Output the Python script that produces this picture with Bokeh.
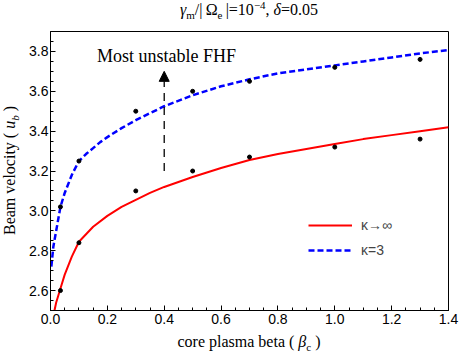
import numpy as np
from bokeh.plotting import figure
from bokeh.layouts import column, row
from bokeh.models import (Range1d, FixedTicker, PrintfTickFormatter, Label, Div,
                          Legend, LegendItem, Arrow, NormalHead)
from bokeh.embed import file_html
from bokeh.resources import INLINE

# ---------------- data ----------------
beta_maxw = [0.014, 0.02, 0.035, 0.05, 0.075, 0.1, 0.15, 0.2, 0.25, 0.3, 0.35, 0.4, 0.45,
             0.5, 0.6, 0.7, 0.8, 0.9, 1.0, 1.1, 1.2, 1.3, 1.4]
ub_maxw = [2.50, 2.54, 2.61, 2.68, 2.77, 2.845, 2.92, 2.975, 3.02, 3.055, 3.09, 3.12, 3.145,
           3.17, 3.215, 3.255, 3.285, 3.31, 3.335, 3.36, 3.38, 3.40, 3.42]

beta_k3 = [0.003, 0.01, 0.02, 0.035, 0.05, 0.075, 0.1, 0.125, 0.15, 0.175, 0.2, 0.25, 0.3,
           0.35, 0.4, 0.5, 0.6, 0.7, 0.8, 0.9, 1.0, 1.1, 1.2, 1.3, 1.4]
ub_k3 = [2.72, 2.82, 2.90, 3.02, 3.09, 3.18, 3.25, 3.285, 3.315, 3.345, 3.37, 3.415, 3.455,
         3.49, 3.525, 3.58, 3.625, 3.66, 3.69, 3.71, 3.73, 3.75, 3.77, 3.79, 3.807]

pts_beta = [0.035, 0.1, 0.3, 0.5, 0.7, 1.0, 1.3]
pts_ub_k3 = [3.02, 3.25, 3.50, 3.60, 3.65, 3.72, 3.76]
pts_ub_maxw = [2.60, 2.84, 3.10, 3.20, 3.27, 3.32, 3.36]

arrow_x = 0.4
arrow_y_start = 3.2
arrow_y_end = 3.70
annot_x = 0.408
annot_y = 3.775
annot_text = "Most unstable FHF"

x_ticks = [0.0, 0.2, 0.4, 0.6, 0.8, 1.0, 1.2, 1.4]
y_ticks = [2.6, 2.8, 3.0, 3.2, 3.4, 3.6, 3.8]
legend_labels = ["κ→∞", "κ=3"]

title_html = "<i>γ</i><sub>m</sub>/|&thinsp;Ω<sub>e</sub>&thinsp;|=10<sup>−4</sup>, <i>δ</i>=0.05"
xlabel_html = "core plasma beta ( <i>β</i><sub>c</sub> )"
ylabel_html = "Beam velocity ( <i>u</i><sub><i>b</i></sub> )"

SERIF = "Liberation Serif"
SANS = "Liberation Sans"

# layout geometry (pixels)
W, H = 460, 359
TITLE_H = 22
YLAB_W = 22
FIG_H = 312
XLAB_H = H - TITLE_H - FIG_H
FRAME_L, FRAME_R = 50, 448
FRAME_T, FRAME_B = 31, 310

p = figure(width=W - YLAB_W, height=FIG_H, output_backend="svg", toolbar_location=None,
           title=None, x_range=Range1d(0, 1.4), y_range=Range1d(2.5, 3.9),
           min_border_left=FRAME_L - YLAB_W, min_border_right=W - FRAME_R,
           min_border_top=FRAME_T - TITLE_H,
           min_border_bottom=FIG_H - (FRAME_B - TITLE_H))
p.grid.visible = False
p.outline_line_color = "black"
p.outline_line_width = 1
p.background_fill_color = "white"
p.border_fill_color = "white"

x_minor = list(np.round(np.arange(0.0, 1.4001, 0.05), 3))
y_minor = list(np.round(np.arange(2.5, 3.9001, 0.05), 3))
p.xaxis.ticker = FixedTicker(ticks=x_ticks, minor_ticks=x_minor)
p.yaxis.ticker = FixedTicker(ticks=y_ticks, minor_ticks=y_minor)
for ax in (p.xaxis[0], p.yaxis[0]):
    ax.formatter = PrintfTickFormatter(format="%.1f")
    ax.major_tick_in = 5
    ax.major_tick_out = 0
    ax.minor_tick_in = 3
    ax.minor_tick_out = 0
    ax.axis_line_color = "black"
    ax.major_tick_line_color = "black"
    ax.minor_tick_line_color = "black"
    ax.major_label_text_font = SANS
    ax.major_label_text_font_size = "14px"
    ax.major_label_text_color = "black"
p.xaxis.major_label_standoff = 3
p.yaxis.major_label_standoff = 2

r_max = p.line(beta_maxw, ub_maxw, line_color="#ff0000", line_width=2)
r_k3 = p.line(beta_k3, ub_k3, line_color="#0000ff", line_width=2.5, line_dash="6 3")
p.scatter(pts_beta, pts_ub_k3, size=4, color="black")
p.scatter(pts_beta, pts_ub_maxw, size=4, color="black")

p.add_layout(Arrow(x_start=arrow_x, y_start=arrow_y_start, x_end=arrow_x, y_end=arrow_y_end,
                   line_color="black", line_width=1.3, line_dash="8 6",
                   end=NormalHead(size=10, fill_color="black", line_color="black")))
p.add_layout(Label(x=annot_x, y=annot_y, text=annot_text, text_font=SERIF,
                   text_font_size="18px", text_align="center", text_baseline="alphabetic",
                   text_color="black"))

legend = Legend(items=[LegendItem(label=legend_labels[0], renderers=[r_max]),
                       LegendItem(label=legend_labels[1], renderers=[r_k3])],
                location=(258, 50), padding=0, margin=0, spacing=5,
                glyph_width=44, glyph_height=20, label_height=20, label_standoff=9,
                label_text_font=SANS, label_text_font_size="14px",
                border_line_color=None, background_fill_alpha=0)
p.add_layout(legend)

FW = FRAME_R - FRAME_L
base_css = f"font-family:'{SERIF}';font-size:16px;color:black;white-space:nowrap;"
subsup = "<style>sub,sup{font-size:11px;line-height:0;}</style>"

title_div = Div(width=W, height=TITLE_H, margin=(0, 0, 0, 0),
                text=subsup + f"<div style=\"{base_css}position:absolute;left:{FRAME_L}px;top:0px;"
                     f"width:{FW}px;line-height:20px;text-align:center;\">{title_html}</div>")

ylab_div = Div(width=YLAB_W, height=FIG_H, margin=(0, 0, 0, 0),
               text=subsup + f"<div style=\"{base_css}position:absolute;left:0px;"
                    f"top:{2 * (FRAME_T - TITLE_H) + (FRAME_B - FRAME_T)}px;"
                    f"width:{2 * (FRAME_T - TITLE_H) + (FRAME_B - FRAME_T)}px;height:20px;"
                    f"line-height:20px;text-align:center;transform:rotate(-90deg);"
                    f"transform-origin:0 0;\">{ylabel_html}</div>")

xlab_div = Div(width=W, height=XLAB_H, margin=(0, 0, 0, 0),
               text=subsup + f"<div style=\"{base_css}position:absolute;left:{FRAME_L}px;top:0px;"
                    f"width:{FW}px;line-height:16px;text-align:center;\">{xlabel_html}</div>")

layout = column(title_div, row(ylab_div, p, spacing=0), xlab_div, spacing=0)

open("out.html", "w").write(file_html(layout, INLINE))
